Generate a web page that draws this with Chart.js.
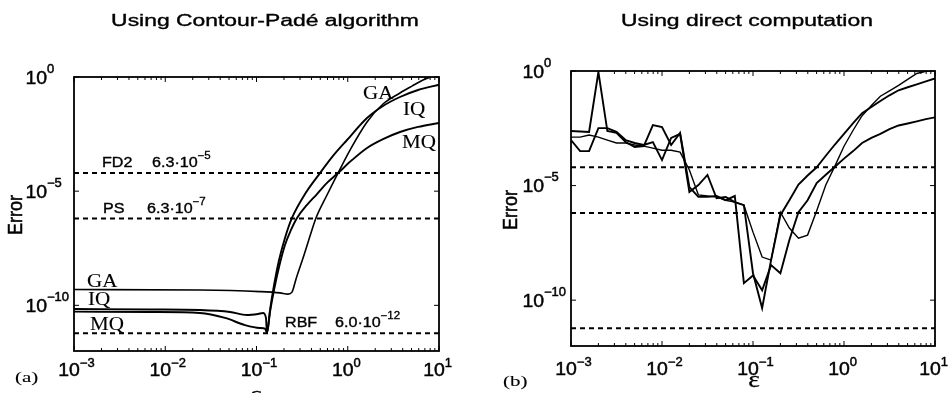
<!DOCTYPE html>
<html>
<head>
<meta charset="utf-8">
<script src="https://cdn.jsdelivr.net/npm/chart.js@4.4.1/dist/chart.umd.min.js"></script>
<style>
  body { margin: 0; background: #fff; }
  canvas { position: absolute; top: 0; }
</style>
</head>
<body>
<canvas id="pade" width="480" height="393" style="left:0px"></canvas>
<canvas id="direct" width="469" height="393" style="left:480px"></canvas>
<script>
// ---- data (epsilon, error) ----
// (a) Contour-Pade curves
const padeEpsGA = [0.001, 0.024, 0.109, 0.181, 0.2213, 0.2448, 0.2708, 0.3318, 0.3858, 0.4487, 0.5925, 0.7821, 1.059, 1.626, 2.434, 3.737, 5.06, 6.68, 8.17, 10];
const padeErrGA = [4.9e-10, 4.7e-10, 4.0e-10, 3.5e-10, 3.1e-10, 3.8e-10, 1.4e-9, 1.6e-8, 1.09e-7, 6.7e-7, 6.8e-6, 6.2e-5, 6.3e-4, 0.0107, 0.0657, 0.199, 0.40, 0.74, 1.0, 1.22];
const padeEpsIQ = [0.001, 0.0068, 0.024, 0.0513, 0.0787, 0.104, 0.118, 0.127, 0.1303, 0.1406, 0.1556, 0.1766, 0.2052, 0.2448, 0.3401, 0.4966, 0.6892, 0.9813, 1.626, 2.434, 3.737, 5.888, 10];
const padeErrIQ = [6.9e-11, 6.6e-11, 6.2e-11, 5.1e-11, 3.8e-11, 4.2e-11, 4.6e-11, 2.8e-11, 6.1e-12, 6.2e-11, 7.7e-10, 9.6e-9, 8.9e-8, 6.7e-7, 7.5e-6, 6.2e-5, 3.5e-4, 1.74e-3, 0.016, 0.0537, 0.133, 0.27, 0.46];
const padeEpsMQ = [0.001, 0.0068, 0.024, 0.0452, 0.0748, 0.109, 0.124, 0.1303, 0.1406, 0.1556, 0.1766, 0.2052, 0.2388, 0.278, 0.3576, 0.4603, 0.5925, 0.7821, 1.113, 1.626, 2.434, 3.737, 5.888, 10];
const padeErrMQ = [5.3e-11, 5.1e-11, 4.6e-11, 2.8e-11, 1.37e-11, 1.02e-11, 9.6e-12, 6.1e-12, 5.1e-11, 4.7e-10, 4.8e-9, 4.4e-8, 2.0e-7, 6.7e-7, 2.5e-6, 7.5e-6, 2.3e-5, 6.2e-5, 2.3e-4, 7.8e-4, 1.9e-3, 3.9e-3, 6.5e-3, 9.7e-3];

// (b) direct computation, one value per epsilon
const directEps = [0.001, 0.00126, 0.00158, 0.002, 0.00251, 0.00316, 0.00398, 0.00501, 0.00631, 0.00794,
  0.01, 0.0126, 0.0158, 0.02, 0.0251, 0.0316, 0.0398, 0.0501, 0.0631, 0.0794,
  0.1, 0.126, 0.158, 0.2, 0.251, 0.316, 0.398, 0.501, 0.631, 0.794,
  1, 1.26, 1.58, 2, 2.51, 3.16, 3.98, 5.01, 6.31, 7.94, 10];
const directGA = [1.3e-3, 1.3e-3, 1.6e-3, 1.3e-3, 9.7e-4, 7.2e-4, 7.2e-4, 5.9e-4, 5.3e-4, 4.3e-4,
  3.5e-4, 3.5e-4, 2.9e-4, 4.8e-5, 3.9e-6, 3.5e-6, 3.2e-6, 2.3e-6, 1.9e-6, 1.4e-6,
  9.3e-8, 7.6e-9, 5.6e-9, 6.9e-7, 1.4e-7, 5.1e-8, 6.9e-8, 8.0e-7, 1.07e-5, 7.1e-5,
  5.2e-4, 2.6e-3, 0.0112, 0.031, 0.079, 0.135, 0.234, 0.43, 0.78, 0.98, 1.1];
const directIQ = [9.7e-4, 3.2e-4, 3.2e-4, 3.2e-3, 3.2e-3, 2.2e-3, 9.7e-4, 7.2e-4, 5.9e-4, 7.9e-4,
  1.3e-4, 1.2e-3, 1.8e-3, 5.2e-6, 1.05e-5, 2.9e-5, 2.8e-6, 3.2e-6, 1.9e-6, 1.4e-6,
  1.5e-9, 4.5e-11, 5.6e-9, 5.1e-7, 2.3e-6, 1.1e-5, 2.75e-5, 6.3e-5, 2.0e-4, 6.2e-4,
  1.8e-3, 5.3e-3, 0.0145, 0.027, 0.049, 0.087, 0.144, 0.195, 0.26, 0.35, 0.47];
const directMQ = [2.4e-3, 2.3e-3, 2.2e-3, 0.9, 2.4e-3, 2.0e-3, 7.9e-4, 4.8e-4, 5.3e-4, 4.4e-3,
  3.6e-3, 5.9e-4, 2.0e-3, 8.6e-6, 3.2e-6, 3.2e-6, 3.5e-6, 2.3e-6, 3.5e-6, 5.5e-10,
  1.2e-9, 2.7e-10, 3.4e-9, 1.5e-9, 4.2e-8, 6.9e-7, 2.3e-6, 1.3e-5, 2.95e-5, 6.6e-5,
  1.5e-4, 3.2e-4, 7.2e-4, 1.2e-3, 1.8e-3, 2.9e-3, 4.2e-3, 5.1e-3, 6.3e-3, 7.9e-3, 9.5e-3];

// reference error levels (dashed)
const levelNames = ['FD2', 'PS', 'RBF'];
const levelValues = [6.3e-5, 6.3e-7, 6.0e-12];
const levelMant = ['6.3·10', '6.3·10', '6.0·10'];
const levelExp = ['−5', '−7', '−12'];

// axes
const xTicks = [1e-3, 1e-2, 1e-1, 1, 10];
const xTickExp = ['−3', '−2', '−1', '0', '1'];
const yTicks = [1, 1e-5, 1e-10];
const yTickExp = ['0', '−5', '−10'];

const SANS = 'Liberation Sans, Arial, sans-serif';
const SERIF = 'Liberation Serif, Times New Roman, serif';

function toPoints(xs, ys) {
  return xs.map((v, i) => ({ x: v, y: ys[i] }));
}

// text with horizontal stretch (the original figure is widened)
function put(ctx, s, x, y, size, family, sx, align, bold) {
  ctx.save();
  ctx.font = size + 'px ' + family;
  ctx.textAlign = align || 'left';
  ctx.textBaseline = 'alphabetic';
  ctx.fillStyle = '#000';
  ctx.strokeStyle = '#000';
  ctx.lineWidth = bold === undefined ? 0.45 : bold;
  ctx.translate(x, y);
  ctx.scale(sx, 1);
  ctx.fillText(s, 0, 0);
  if (ctx.lineWidth > 0) ctx.strokeText(s, 0, 0);
  ctx.restore();
}
function measure(ctx, s, size, family, sx) {
  ctx.save();
  ctx.font = size + 'px ' + family;
  const w = ctx.measureText(s).width * sx;
  ctx.restore();
  return w;
}

function decor(o) {
  return {
    id: 'decor_' + o.tag,
    afterDatasetsDraw(chart) {
      const ctx = chart.ctx;
      const a = chart.chartArea;
      const xs = chart.scales.x, ys = chart.scales.y;
      ctx.save();
      ctx.strokeStyle = '#000';

      // frame
      ctx.lineWidth = 1.8;
      ctx.strokeRect(a.left, a.top, a.right - a.left, a.bottom - a.top);

      // ticks
      ctx.lineWidth = 1;
      ctx.beginPath();
      for (let d = -3; d < 1; d++) {
        for (let m = 2; m <= 9; m++) {
          const px = xs.getPixelForValue(m * Math.pow(10, d));
          ctx.moveTo(px, a.bottom); ctx.lineTo(px, a.bottom - 3);
          ctx.moveTo(px, a.top); ctx.lineTo(px, a.top + 3);
        }
      }
      xTicks.forEach(v => {
        const px = xs.getPixelForValue(v);
        ctx.moveTo(px, a.bottom); ctx.lineTo(px, a.bottom - 5);
        ctx.moveTo(px, a.top); ctx.lineTo(px, a.top + 5);
      });
      yTicks.forEach(v => {
        const py = ys.getPixelForValue(v);
        ctx.moveTo(a.left, py); ctx.lineTo(a.left + 5, py);
        ctx.moveTo(a.right, py); ctx.lineTo(a.right - 5, py);
      });
      ctx.stroke();

      // tick labels
      const wb = measure(ctx, '10', 18, SANS, 1.08);
      xTicks.forEach((v, i) => {
        const left = xs.getPixelForValue(v) - 5 - wb / 2;
        put(ctx, '10', left, o.xLabelBase, 18, SANS, 1.08);
        put(ctx, xTickExp[i], left + wb, o.xLabelBase - 9, 12, SANS, 1.08);
      });
      yTicks.forEach((v, i) => {
        const py = ys.getPixelForValue(v);
        const left = a.left - 27 - wb;
        put(ctx, '10', left, py + 6.5, 18, SANS, 1.08);
        put(ctx, yTickExp[i], left + wb, py - 4.5, 12, SANS, 1.08);
      });

      // titles
      put(ctx, o.title, o.titleX, 26, 16, SANS, 1.43, 'center', 0.35);
      ctx.save();
      ctx.translate(o.errX, o.errY);
      ctx.rotate(-Math.PI / 2);
      ctx.scale(1, 1.16);
      ctx.font = '18px ' + SANS;
      ctx.textAlign = 'center';
      ctx.textBaseline = 'middle';
      ctx.fillStyle = '#000';
      ctx.strokeStyle = '#000';
      ctx.lineWidth = 0.45;
      ctx.fillText('Error', 0, 0);
      ctx.strokeText('Error', 0, 0);
      ctx.restore();
      put(ctx, 'ε', o.epsX, o.epsBase, 24, SERIF, 1.15, 'center', 0.3);
      put(ctx, o.tag, o.tagX, o.tagBase, 15, SERIF, 1.4, 'left', 0.1);

      // dashed level labels
      if (o.levelLabels) {
        o.levelLabels.forEach((l, i) => {
          put(ctx, levelNames[i], l.nameX, l.base, 14, SANS, 1.15, 'left', 0.35);
          const wm = measure(ctx, levelMant[i], 14, SANS, 1.15);
          put(ctx, levelMant[i], l.valX, l.base, 14, SANS, 1.15, 'left', 0.35);
          put(ctx, levelExp[i], l.valX + wm, l.base - 8, 10, SANS, 1.15, 'left', 0.3);
        });
      }
      // curve names
      if (o.curveLabels) {
        o.curveLabels.forEach(c => put(ctx, c.text, c.x, c.base, 18, SERIF, 1.17, 'left', 0.1));
      }
      ctx.restore();
    }
  };
}

function panel(id, curves, pad, o) {
  const datasets = curves.map(c => ({
    data: toPoints(c.x, c.y),
    borderColor: '#000',
    borderWidth: c.w,
    cubicInterpolationMode: c.smooth ? 'monotone' : 'default',
    tension: 0,
    pointRadius: 0
  }));
  levelValues.forEach(v => {
    datasets.push({
      data: toPoints([1e-3, 10], [v, v]),
      borderColor: '#000',
      borderWidth: 2,
      borderDash: [5, 4],
      pointRadius: 0
    });
  });
  return new Chart(document.getElementById(id), {
    type: 'line',
    data: { datasets },
    options: {
      responsive: false,
      animation: false,
      devicePixelRatio: 1,
      layout: { padding: pad },
      plugins: { legend: { display: false }, tooltip: { enabled: false } },
      scales: {
        x: { type: 'logarithmic', min: 1e-3, max: 10, display: false },
        y: { type: 'logarithmic', min: 1e-12, max: 1, display: false }
      }
    },
    plugins: [decor(o)]
  });
}

panel('pade', [
  { x: padeEpsGA, y: padeErrGA, w: 1.6, smooth: true },
  { x: padeEpsIQ, y: padeErrIQ, w: 1.9, smooth: true },
  { x: padeEpsMQ, y: padeErrMQ, w: 1.9, smooth: true }
], { left: 74, right: 41, top: 77, bottom: 42 }, {
  tag: '(a)', tagX: 15, tagBase: 382,
  title: 'Using Contour-Padé algorithm', titleX: 265,
  errX: 16, errY: 215, epsX: 256, epsBase: 402, xLabelBase: 376,
  levelLabels: [
    { nameX: 102, valX: 152, base: 167 },
    { nameX: 103, valX: 147, base: 213 },
    { nameX: 285, valX: 335, base: 327 }
  ],
  curveLabels: [
    { text: 'GA', x: 87, base: 287 },
    { text: 'IQ', x: 88, base: 305 },
    { text: 'MQ', x: 90, base: 330 },
    { text: 'GA', x: 363, base: 99 },
    { text: 'IQ', x: 403, base: 115 },
    { text: 'MQ', x: 402, base: 148 }
  ]
});

panel('direct', [
  { x: directEps, y: directGA, w: 1.4, smooth: false },
  { x: directEps, y: directIQ, w: 1.9, smooth: false },
  { x: directEps, y: directMQ, w: 1.9, smooth: false }
], { left: 91, right: 14, top: 71, bottom: 47 }, {
  tag: '(b)', tagX: 23, tagBase: 386,
  title: 'Using direct computation', titleX: 267,
  errX: 31, errY: 210, epsX: 274, epsBase: 387, xLabelBase: 375
});
</script>
</body>
</html>
